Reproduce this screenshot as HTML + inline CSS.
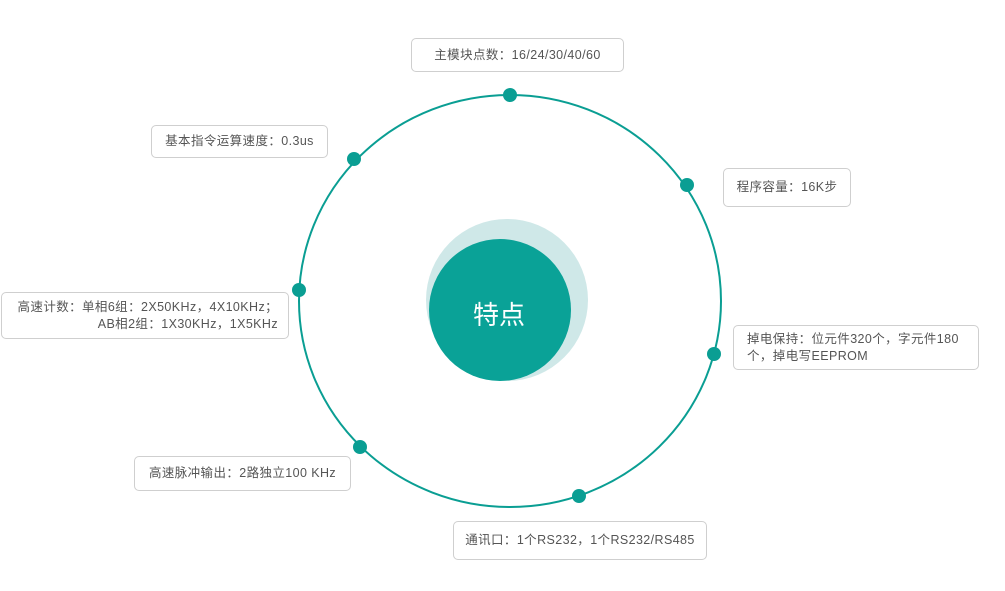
<!DOCTYPE html>
<html><head><meta charset="utf-8"><style>
body{margin:0;width:1005px;height:591px;background:#fff;position:relative;overflow:hidden;font-family:"Liberation Sans","Noto Sans CJK SC",sans-serif;}
.b{position:absolute;box-sizing:border-box;border:1px solid #cfcfcf;border-radius:5px;background:#fff;color:#555;font-size:12.5px;line-height:17px;display:flex;align-items:center;justify-content:center;letter-spacing:0.4px}
</style></head><body>
<svg width="1005" height="591" style="position:absolute;left:0;top:0">
<circle cx="507" cy="300" r="81" fill="#cfe8e8"/>
<circle cx="500" cy="310" r="71" fill="#0aa297"/>
<ellipse cx="510" cy="301" rx="211" ry="206" fill="none" stroke="#0a9e93" stroke-width="2"/>
<g fill="#0a9e93">
<circle cx="510" cy="95" r="7"/><circle cx="354" cy="159" r="7"/><circle cx="687" cy="185" r="7"/>
<circle cx="299" cy="290" r="7"/><circle cx="714" cy="354" r="7"/><circle cx="360" cy="447" r="7"/><circle cx="579" cy="496" r="7"/>
</g>
<text x="499" y="324" fill="#fff" font-size="26" text-anchor="middle" font-family="Liberation Sans, Noto Sans CJK SC, sans-serif">特点</text>
</svg>
<div class="b" style="left:411px;top:38px;width:213px;height:34px">主模块点数：16/24/30/40/60</div>
<div class="b" style="left:151px;top:125px;width:177px;height:33px">基本指令运算速度：0.3us</div>
<div class="b" style="left:723px;top:168px;width:128px;height:39px">程序容量：16K步</div>
<div class="b" style="left:1px;top:292px;width:288px;height:47px;text-align:right;justify-content:flex-end;padding-right:10px">高速计数：单相6组：2X50KHz，4X10KHz；<br>AB相2组：1X30KHz，1X5KHz</div>
<div class="b" style="left:733px;top:325px;width:246px;height:45px;justify-content:flex-start;padding-left:13px">掉电保持：位元件320个，字元件180<br>个，掉电写EEPROM</div>
<div class="b" style="left:134px;top:456px;width:217px;height:35px">高速脉冲输出：2路独立100 KHz</div>
<div class="b" style="left:453px;top:521px;width:254px;height:39px">通讯口：1个RS232，1个RS232/RS485</div>
</body></html>
